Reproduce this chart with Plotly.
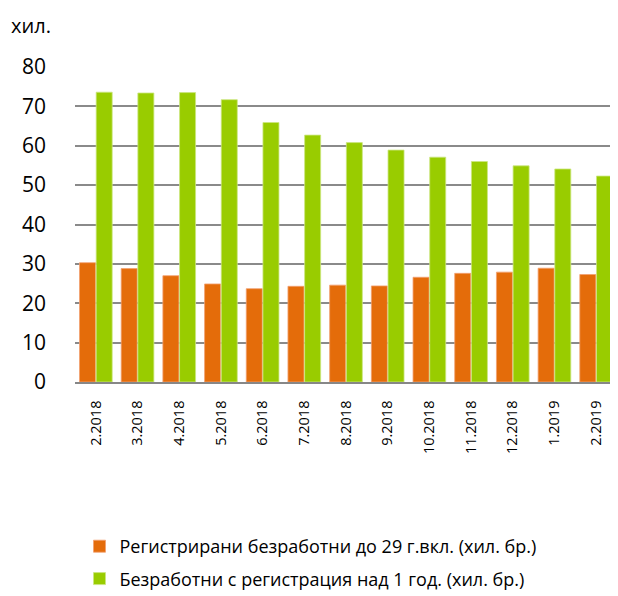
import plotly.graph_objects as go

categories = ["2.2018", "3.2018", "4.2018", "5.2018", "6.2018", "7.2018", "8.2018",
              "9.2018", "10.2018", "11.2018", "12.2018", "1.2019", "2.2019"]
youth = [30.3, 28.8, 27.0, 24.9, 23.7, 24.3, 24.6, 24.4, 26.6, 27.6, 27.9, 28.9, 27.3]
long_term = [73.6, 73.4, 73.5, 71.7, 65.9, 62.7, 60.8, 58.9, 57.1, 56.0, 54.9, 54.1, 52.3]
y_ticks = [0, 10, 20, 30, 40, 50, 60, 70, 80]
name_youth = "Регистрирани безработни до 29 г.вкл. (хил. бр.)"
name_long = "Безработни с регистрация над 1 год. (хил. бр.)"

FONT = "Open Sans"

# page body has an 8px default margin, so the figure is sized/offset for it
W, H = 610, 588
L, R, T, B = 67, 1, 59, 214
PW, PH = W - L - R, H - T - B

fig = go.Figure()
fig.add_trace(go.Bar(x=categories, y=youth, name=name_youth, legendgroup="a",
                     marker=dict(color="#E46C0A", line=dict(color="#F2A070", width=0.8))))
fig.add_trace(go.Bar(x=categories, y=long_term, name=name_long, legendgroup="b",
                     marker=dict(color="#99CC00", line=dict(color="#CCE680", width=0.8))))

fig.update_layout(
    width=W, height=H,
    margin=dict(l=L, r=R, t=T, b=B, pad=0, autoexpand=False),
    paper_bgcolor="white", plot_bgcolor="white",
    barmode="group", bargap=0.2, bargroupgap=0.04,
    font=dict(family=FONT, color="#000000"),
    xaxis=dict(tickangle=-90, tickfont=dict(size=14.5, family=FONT), showgrid=False,
               showline=True, linecolor="#878787", linewidth=1.5, ticks="",
               ticklabelstandoff=11),
    yaxis=dict(range=[0, 80], tickvals=y_ticks, tickfont=dict(size=21, family=FONT),
               showgrid=True, gridcolor="#8A8A8A", gridwidth=1.5, zeroline=False,
               ticks="", ticklabelstandoff=28),
    showlegend=True,
    legend=dict(orientation="v", xref="container", yref="container",
                x=71.5 / W, xanchor="left", y=1 - 520 / H, yanchor="top",
                traceorder="grouped", tracegroupgap=6,
                font=dict(size=18, family=FONT), bgcolor="rgba(0,0,0,0)"),
)
fig.add_annotation(text="хил.", xref="paper", yref="paper",
                   x=(1 - L) / PW, y=1 + 42 / PH, xanchor="left", yanchor="middle",
                   showarrow=False, font=dict(size=20, family=FONT))

fig.write_html("out.html")
